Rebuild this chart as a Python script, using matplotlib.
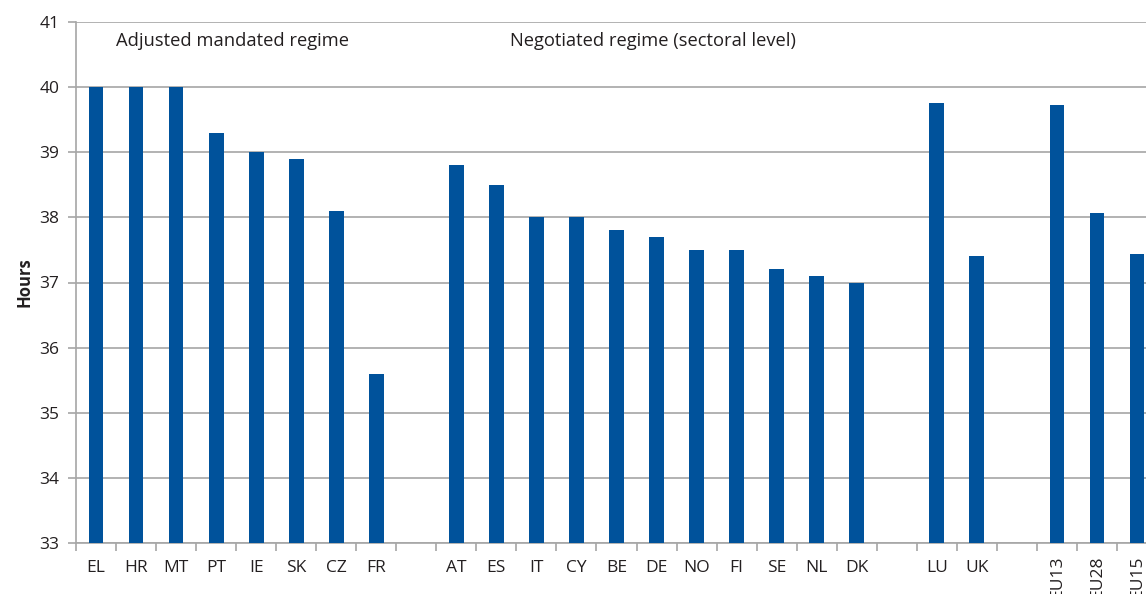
import numpy as np
import matplotlib
matplotlib.use('Agg')
import matplotlib.pyplot as plt

plt.rcParams['font.family'] = ['Open Sans', 'DejaVu Sans']

# weekly working hours, groups separated by an empty slot
mandated = ['EL', 'HR', 'MT', 'PT', 'IE', 'SK', 'CZ', 'FR']
mandatedHours = [40.0, 40.0, 40.0, 39.3, 39.0, 38.9, 38.1, 35.6]
negotiated = ['AT', 'ES', 'IT', 'CY', 'BE', 'DE', 'NO', 'FI', 'SE', 'NL', 'DK']
negotiatedHours = [38.8, 38.5, 38.0, 38.0, 37.8, 37.7, 37.5, 37.5, 37.2, 37.1, 37.0]
other = ['LU', 'UK']
otherHours = [39.75, 37.4]
averages = ['EU13', 'EU28', 'EU15']
averageHours = [39.72, 38.07, 37.44]

groups = [(mandated, mandatedHours), (negotiated, negotiatedHours),
          (other, otherHours), (averages, averageHours)]

labels = []
values = []
for g, (names, hours) in enumerate(groups):
    if g > 0:
        labels.append('')
        values.append(np.nan)
    labels += names
    values += hours

x = np.arange(len(labels))
barColor = '#00529b'
gridColor = '#a6a6a6'
textColor = '#231f20'

fig = plt.figure(figsize=(11.46, 5.94), dpi=100)
# axes runs past the right edge of the figure, like the clipped original
ax = fig.add_axes([76/1146, 51/594, 1081/1146, 521/594])

ax.bar(x, values, width=0.37, color=barColor, zorder=3)

ax.set_xlim(-0.5, len(labels) - 0.5)
ax.set_ylim(33, 41)
ax.set_yticks(np.arange(33, 42, 1))
ax.yaxis.grid(True, color=gridColor, linewidth=1.2, zorder=0)
ax.set_axisbelow(True)

ax.set_xticks(np.arange(-0.5, len(labels), 1))
ax.set_xticklabels([])
ax.set_xticks(x, minor=True)
# the EU averages get rotated labels, drawn separately below
ax.set_xticklabels([l if not l.startswith('EU') else '' for l in labels], minor=True)
for xi, l in zip(x, labels):
    if l.startswith('EU'):
        ax.annotate(l, (xi, 0), xycoords=ax.get_xaxis_transform(),
                    xytext=(0, -9), textcoords='offset points',
                    rotation=90, ha='center', va='top', fontsize=12.5,
                    color=textColor, annotation_clip=False)
ax.tick_params(axis='x', which='major', length=6, color=gridColor, width=1.2)
ax.tick_params(axis='x', which='minor', length=0, pad=12, labelsize=12.5, labelcolor=textColor)
ax.tick_params(axis='y', length=6, color=gridColor, width=1.2, labelsize=12.5,
               labelcolor=textColor, pad=6)

for s in ['top', 'right']:
    ax.spines[s].set_visible(False)
for s in ['left', 'bottom']:
    ax.spines[s].set_color(gridColor)
    ax.spines[s].set_linewidth(1.2)

ax.set_ylabel('Hours', fontsize=12, fontweight='bold', color=textColor, labelpad=4)

ax.text(3.42, 40.71, 'Adjusted mandated regime', ha='center', va='center',
        fontsize=13.2, color=textColor)
ax.text(13.9, 40.71, 'Negotiated regime (sectoral level)', ha='center', va='center',
        fontsize=13.2, color=textColor)

fig.savefig('out.png', dpi=100)
